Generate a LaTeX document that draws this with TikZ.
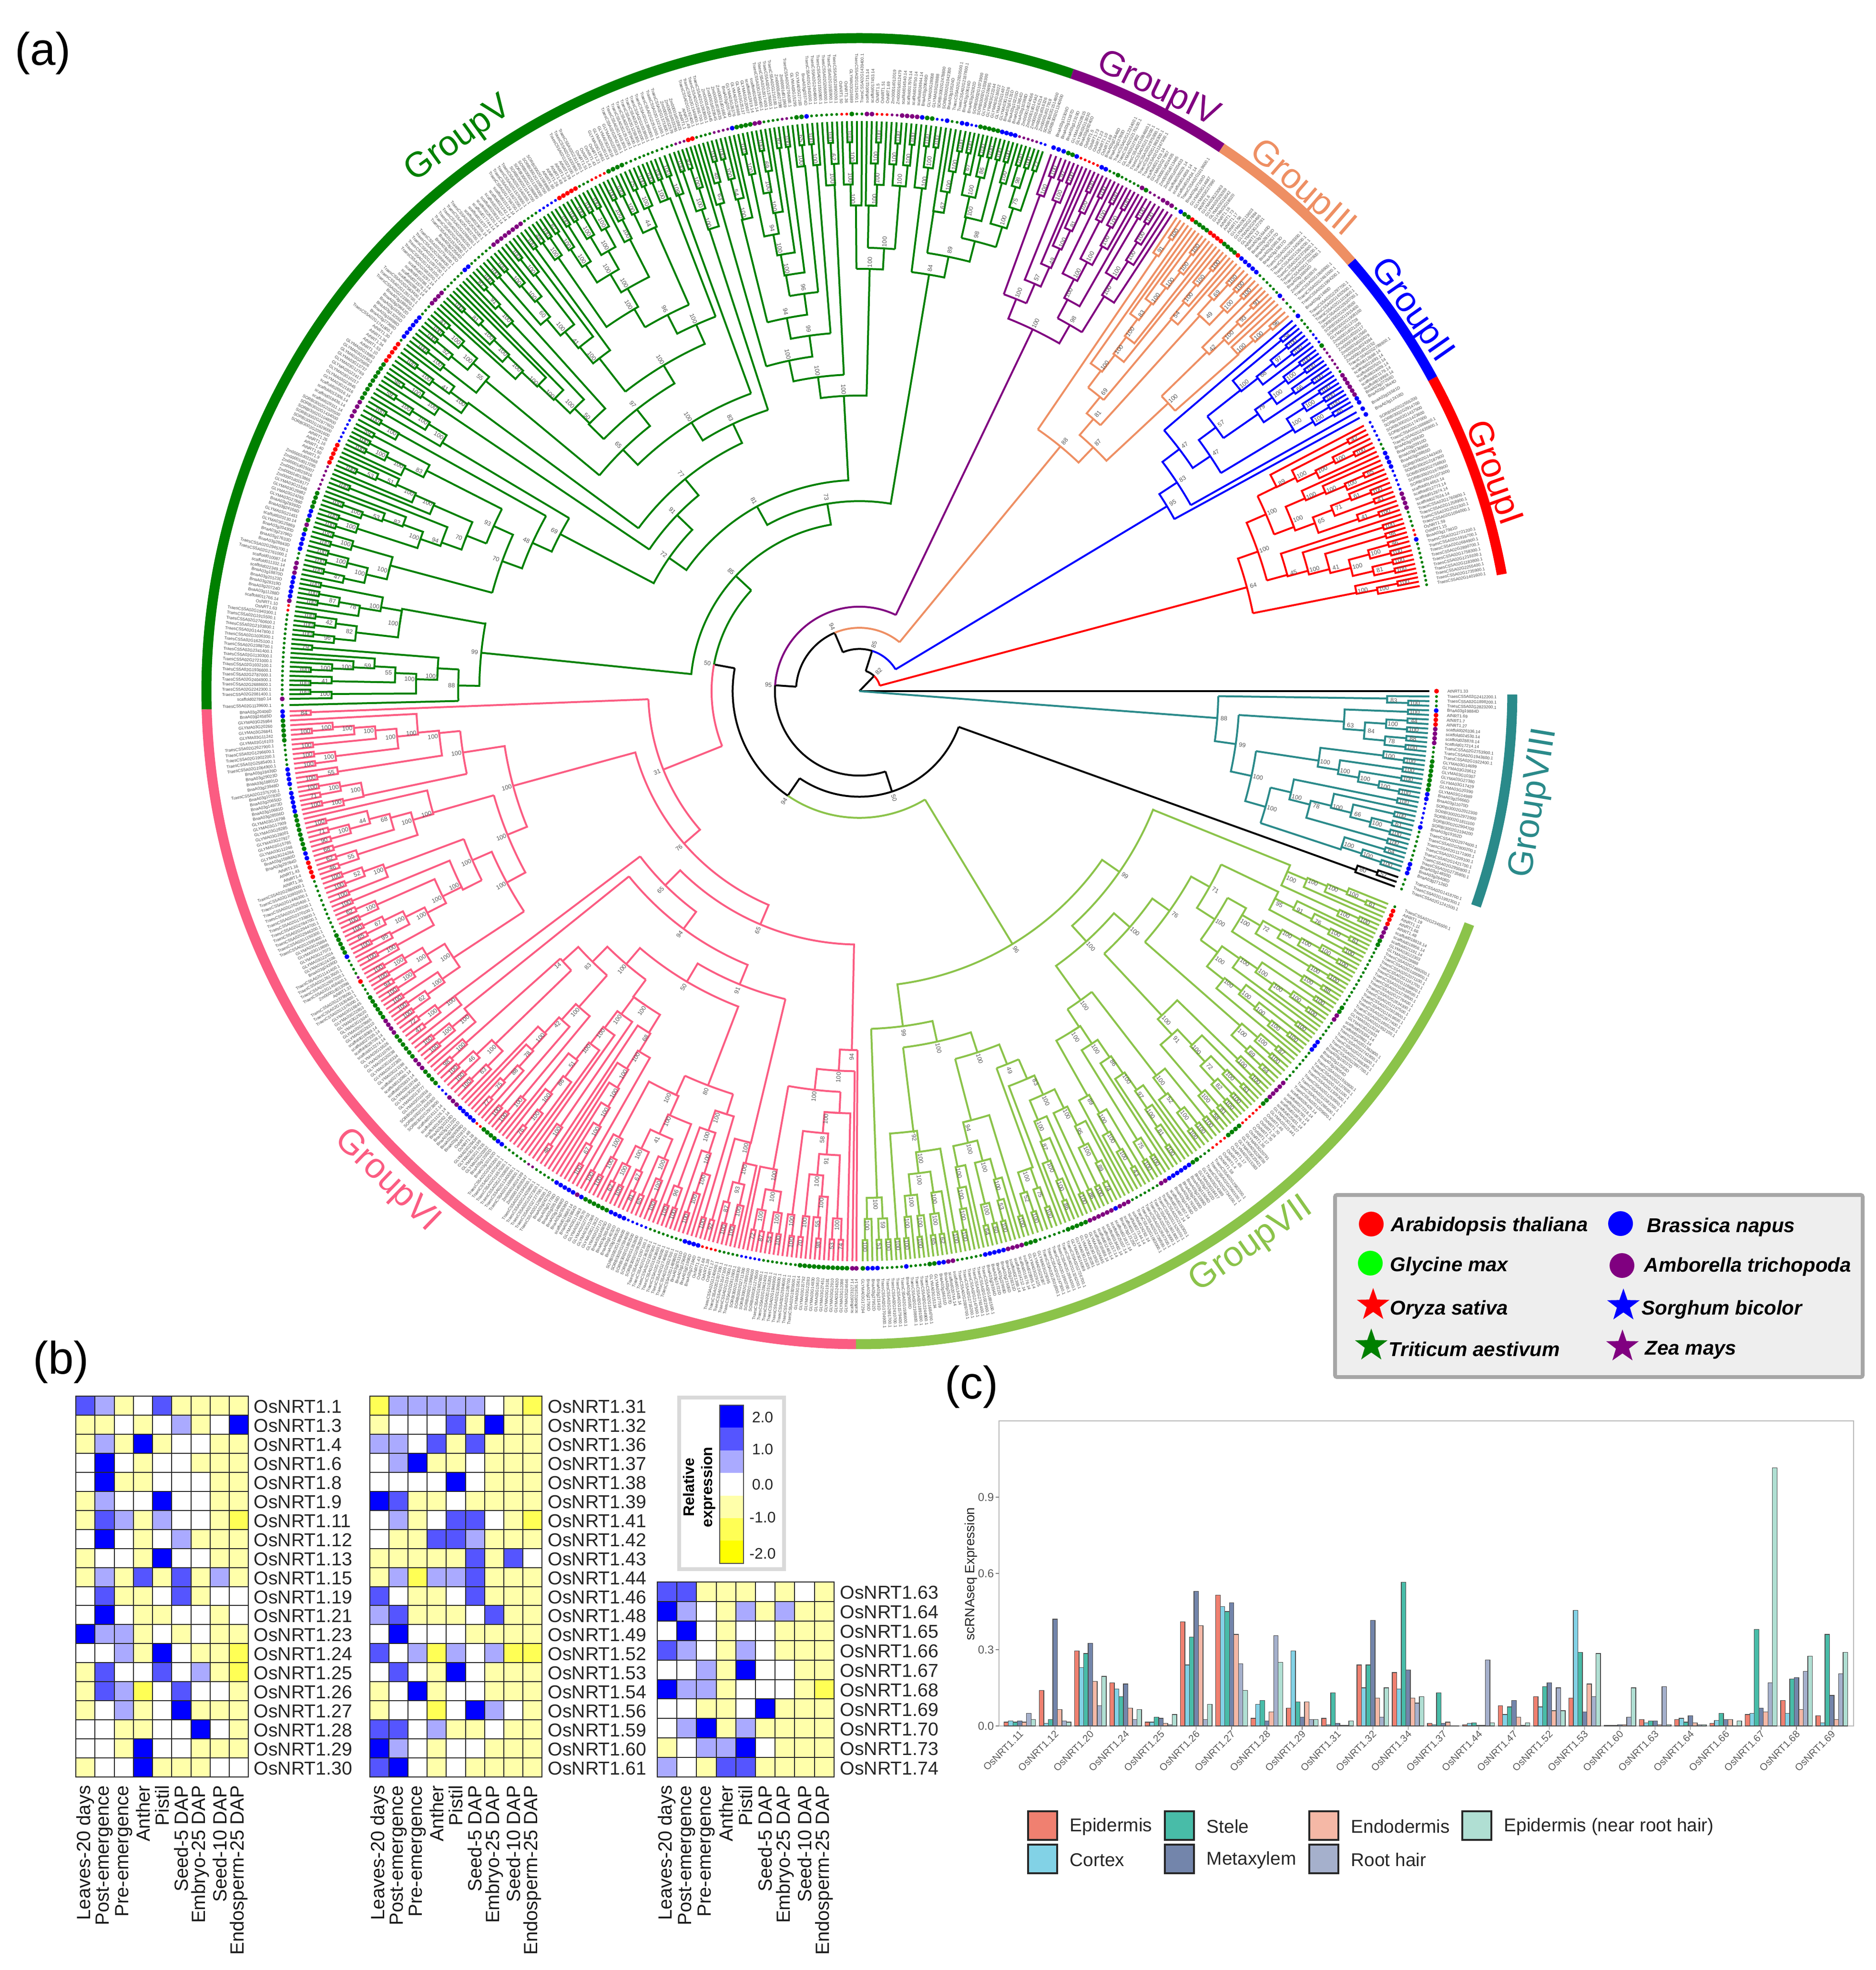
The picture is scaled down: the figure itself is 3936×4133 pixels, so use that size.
\documentclass[tikz,border=0pt]{standalone}
\usepackage{fontspec}
\setmainfont{Liberation Sans}
\usetikzlibrary{shapes.geometric}
\definecolor{cI}{HTML}{FF0000}\definecolor{cII}{HTML}{0000FF}\definecolor{cIII}{HTML}{EE8F63}
\definecolor{cIV}{HTML}{800080}\definecolor{cV}{HTML}{008000}\definecolor{cVI}{HTML}{FB5C82}
\definecolor{cVII}{HTML}{8BC34A}\definecolor{cVIII}{HTML}{2A8A8A}
\definecolor{hmB}{HTML}{0000FF}\definecolor{hmM}{HTML}{5555FF}\definecolor{hmL}{HTML}{AAAAFF}
\definecolor{hmW}{HTML}{FFFFFF}\definecolor{hmY}{HTML}{FFFFAA}\definecolor{hmS}{HTML}{FFFF55}\definecolor{hmZ}{HTML}{FFFF00}
\definecolor{bar0}{HTML}{F08070}\definecolor{bar1}{HTML}{82D2E6}\definecolor{bar2}{HTML}{48BCA8}
\definecolor{bar3}{HTML}{7385AB}\definecolor{bar4}{HTML}{F5B8A6}\definecolor{bar5}{HTML}{A5B0CC}\definecolor{bar6}{HTML}{B0DFD3}
\definecolor{lgfill}{HTML}{EEEEEE}\definecolor{lgline}{HTML}{A6A6A6}
\tikzset{
 treeline/.style={line width=1pt,line join=miter},
 bs/.style={font=\fontsize{3.2}{3.7}\selectfont,text=black!65,inner sep=0pt},
 leaflab/.style={font=\fontsize{2.2}{2.6}\selectfont,text=black!70,inner sep=0pt},
 grouplab/.style={font=\fontsize{18.5}{22}\selectfont,inner sep=0pt},
 panellab/.style={font=\fontsize{24}{28}\selectfont,inner sep=0pt},
 hmlab/.style={font=\fontsize{9.8}{11}\selectfont,anchor=west,inner sep=0pt,text=black!85},
 collab/.style={font=\fontsize{10}{11}\selectfont,rotate=90,anchor=east,inner sep=0pt,text=black!90},
 cell/.style={draw=black!85,line width=.5pt},
 lgtext/.style={font=\fontsize{10.5}{12}\selectfont\bfseries\itshape,anchor=west,inner sep=0pt},
 lgdot/.style={circle,inner sep=0pt,minimum size=13pt},
 lgstar/.style={star,star points=5,star point ratio=2.5,inner sep=0pt,minimum size=18pt},
 barlg/.style={font=\fontsize{9.7}{11}\selectfont,anchor=west,inner sep=0pt,text=black!85},
 swatch/.style={draw=black!85,line width=.8pt},
}
\makeatletter
\newcount\rs \newcount\rt \newcount\rv \global\rs=4711
\newcount\qnS \newcount\qnL \newcount\qhS \newcount\qhL \newcount\qtmp \newcount\qlg \newcount\qfa
\newcount\spRun \newcount\spCur \newcount\topn \newcount\toph
\newdimen\azero \newdimen\adel
\def\rnd#1{\rt=\rs \multiply\rt by 25173 \advance\rt by 13849 \rv=\rt \divide\rv by 65536 \multiply\rv by 65536 \advance\rt by -\rv \global\rs=\rt \rv=\rt \multiply\rv by #1 \divide\rv by 65536 }
\def\clog#1{\qlg=0 \qtmp=1 \loop\ifnum\qtmp<#1 \multiply\qtmp by 2 \advance\qlg by 1 \repeat}
\def\angm#1#2{\edef#1{\strip@pt\dimexpr\azero+\adel*\numexpr#2\relax/2\relax}}
\def\lv#1{\the\dimexpr11.075pt*\numexpr#1\relax\relax}
\def\hr#1{\the\dimexpr11.075pt*\numexpr27-#1\relax\relax}
\def\cc{black}
% bootstrap label: angle, radius dim, text
\def\bslabel#1#2#3{\edef\rotv{#1}\ifdim#1pt>90pt \ifdim#1pt<270pt \edef\rotv{\strip@pt\dimexpr#1pt+180pt\relax}\fi\fi
 \edef\rlab{\the\dimexpr#2+3.5pt\relax}\node[bs,rotate=\rotv] at (#1:\rlab) {#3};}
\def\rndlabel{\rnd{100}\ifnum\rv<68 \def\bstxt{100}\else \rnd{58}\advance\rv by 41 \edef\bstxt{\the\rv}\fi}
% leaf
\def\leafitem#1{\begingroup
 \angm\aL{2*#1+1}%
 \ifnum\spRun<1
  \rnd{16}%
  \ifcase\rv \global\spCur=6 \or\global\spCur=6 \or\global\spCur=6 \or\global\spCur=6 \or\global\spCur=6 \or
   \global\spCur=2 \or\global\spCur=2 \or\global\spCur=2 \or\global\spCur=1 \or\global\spCur=1 \or\global\spCur=1 \or
   \global\spCur=5 \or\global\spCur=0 \or\global\spCur=4 \or\global\spCur=3 \or\global\spCur=7 \fi
  \rnd{6}\global\spRun=\numexpr\rv+1\relax
 \fi
 \global\advance\spRun by -1
 \rnd{20000}\advance\rv by 10000
 \edef\num{\the\rv}%
 \ifcase\spCur
  \def\spc{red}\def\spr{1.25pt}\rnd{74}\advance\rv by 1 \edef\nm{AtNRT1.\the\rv}\or
  \def\spc{blue}\def\spr{1.25pt}\edef\nm{BnaA03g\num D}\or
  \def\spc{cV}\def\spr{1.25pt}\edef\nm{GLYMA03G\num}\or
  \def\spc{cIV}\def\spr{1.25pt}\edef\nm{scaffold0\num.14}\or
  \def\spc{red}\def\spr{.75pt}\rnd{74}\advance\rv by 1 \edef\nm{OsNRT1.\the\rv}\or
  \def\spc{blue}\def\spr{.75pt}\edef\nm{SORBI3002G\num00}\or
  \def\spc{cV}\def\spr{.75pt}\edef\nm{TraesCS5A02G\num00.1}\or
  \def\spc{cIV}\def\spr{.75pt}\edef\nm{Zm00001d0\num}\fi
 \fill[\spc] (\aL:302.75pt) circle[radius=\spr];
 \edef\rotv{\aL}\def\anc{west}%
 \ifdim\aL pt>90pt \ifdim\aL pt<270pt \edef\rotv{\strip@pt\dimexpr\aL pt+180pt\relax}\def\anc{east}\fi\fi
 \node[leaflab,rotate=\rotv,anchor=\anc] at (\aL:308.25pt) {\nm};
 \endgroup}
\def\clade#1#2#3{\ifnum#2=1 \leafitem{#1}\else\cladeX{#1}{#2}{#3}\fi}
\def\cladeX#1#2#3{\begingroup
 \qtmp=#2 \divide\qtmp by 2 \rnd{\qtmp}\qnS=\rv \advance\qnS by 1
 \qtmp=#2 \advance\qtmp by -#3
 \ifnum\qnS>\qtmp \qnS=\qtmp\fi
 \qnL=#2 \advance\qnL by -\qnS
 \ifnum#3<11
  \qtmp=1 \qfa=#3 \advance\qfa by -1
  \loop\ifnum\qfa>0 \multiply\qtmp by 2 \advance\qfa by -1 \repeat
  \ifnum\qnL>\qtmp \qnL=\qtmp \qnS=#2 \advance\qnS by -\qnL \fi
 \fi
 \qhL=#3 \advance\qhL by -1
 \clog{\qnS}%
 \qhS=\qnS \advance\qhS by -1
 \ifnum\qhS>\qhL \qhS=\qhL\fi
 \rnd{3}\advance\qhS by -\rv
 \ifnum\qhS<\qlg \qhS=\qlg\fi
 \rnd{2}%
 \ifnum\rv=0
  \edef\jA{#1}\edef\nA{\the\qnS}\edef\hA{\the\qhS}\edef\jB{\the\numexpr#1+\qnS\relax}\edef\nB{\the\qnL}\edef\hB{\the\qhL}%
 \else
  \edef\jA{#1}\edef\nA{\the\qnL}\edef\hA{\the\qhL}\edef\jB{\the\numexpr#1+\qnL\relax}\edef\nB{\the\qnS}\edef\hB{\the\qhS}%
 \fi
 \angm\aA{2*\jA+\nA}\angm\aB{2*\jB+\nB}\angm\aM{2*#1+#2}%
 \edef\rN{\hr{#3}}\edef\rA{\hr{\hA}}\edef\rB{\hr{\hB}}%
 \draw[treeline,color=\cc] (\aA:\rA) -- (\aA:\rN) arc[start angle=\aA,end angle=\aB,radius=\rN] -- (\aB:\rB);
 \rndlabel \bslabel{\aM}{\rN}{\bstxt}%
 \edef\next{\noexpand\clade{\jA}{\nA}{\hA}\noexpand\clade{\jB}{\nB}{\hB}}\next
 \endgroup}
% top-level clade: stem angle, parent level, a1, a2, level
\def\C#1#2#3#4#5{\begingroup
 \topn=\numexpr\numexpr\dimexpr#4pt-#3pt\relax*100/47\relax/65536\relax
 \ifnum\topn<1 \topn=1 \fi
 \azero=#3pt \adel=\dimexpr(#4pt-#3pt)/\topn\relax
 \toph=\numexpr27-#5\relax
 \qtmp=\topn \advance\qtmp by -1
 \ifnum\toph>\qtmp \toph=\qtmp\fi
 \clog{\topn}\ifnum\toph<\qlg \toph=\qlg\fi
 \edef\rN{\hr{\toph}}\edef\rP{\lv{#2}}\edef\tn{\the\topn}\edef\th{\the\toph}%
 \angm\aM{\tn}%
 \ifnum\topn=1
  \draw[treeline,color=\cc] (\aM:\rP) -- (\aM:\rN);
 \else
  \draw[treeline,color=\cc] (#1:\rP) -- (#1:\rN) arc[start angle=#1,end angle=\aM,radius=\rN];
 \fi
 \clade{0}{\tn}{\th}%
 \endgroup}
\def\Ar#1#2#3#4{\draw[treeline,color=#1] (#3:\lv{#2}) arc[start angle=#3,end angle=#4,radius=\lv{#2}];}
\def\Rd#1#2#3#4{\draw[treeline,color=#1] (#2:\lv{#3}) -- (#2:\lv{#4});}
\def\Lb#1#2#3{\edef\rlb{\lv{#2}}\bslabel{#1}{\rlb}{#3}}
\def\Bn#1#2#3#4#5#6#7{\draw[treeline,color=\cc] (#2:\lv{#3}) -- (#2:\lv{#1}) arc[start angle=#2,end angle=#4,radius=\lv{#1}] -- (#4:\lv{#5});\Lb{#6}{#1}{#7}}
\makeatother
\begin{document}
\begin{tikzpicture}[x=0.25pt,y=-0.25pt]
\useasboundingbox (0,0) rectangle (3936,4133);
\fill[white] (0,0) rectangle (3936,4133);
\node[panellab] (pa) at (90,112) {(a)};
\node[panellab] (pb) at (128,2858) {(b)};
\node[panellab] (pc) at (2038,2910) {(c)};
\begin{scope}[shift={(1803,1450)}]
% outer rings
\foreach \c/\a/\b in {cI/10.3/28.6,cII/28.6/41.1,cIII/41.1/56.3,cIV/56.3/71,cV/71/181.6,cVI/181.6/269.7,cVII/269.7/339.1,cVIII/340.8/359.7}
 \draw[line width=5.25pt,color=\c] (\a:342.5pt) arc[start angle=\a,end angle=\b,radius=342.5pt];
\node[grouplab,text=cI,rotate=-70.5] (gI) at (19:351pt) {GroupI};
\node[grouplab,text=cII,rotate=-55] (gII) at (34.6:351.5pt) {GroupII};
\node[grouplab,text=cIII,rotate=-41] (gIII) at (48.6:351pt) {GroupIII};
\node[grouplab,text=cIV,rotate=-26] (gIV) at (63.6:352pt) {GroupIV};
\node[grouplab,text=cV,rotate=36] (gV) at (126:357.5pt) {GroupV};
\node[grouplab,text=cVI,rotate=-44] (gVI) at (226:357pt) {GroupVI};
\node[grouplab,text=cVII,rotate=35] (gVII) at (-54.7:356pt) {GroupVII};
\node[grouplab,text=cVIII,rotate=80.6] (gVIII) at (-9.4:359pt) {GroupVIII};
% backbone
\Rd{black}{46}{0}{1}
\Ar{cI}{1}{46}{15}\Ar{black}{1}{46}{72.5}\Lb{46}{1}{82}
\Rd{black}{72.5}{1}{2}
\Ar{cII}{2}{72.5}{31}\Ar{black}{2}{72.5}{113}\Lb{72.5}{2}{85}
\Rd{black}{113}{2}{3}
\Ar{cIII}{3}{113}{50.6}\Ar{black}{3}{113}{176}\Lb{113}{3}{94}
\Rd{black}{176}{3}{4}
\Ar{cIV}{4}{176}{64.4}\Ar{black}{4}{176}{288}\Lb{176}{4}{95}
\Rd{black}{288}{4}{5}
\Ar{black}{5}{288}{340.2}\Ar{black}{5}{288}{235.6}\Lb{288}{5}{50}
\Rd{black}{235.6}{5}{6}
\Ar{cVII}{6}{235.6}{301.2}\Ar{black}{6}{235.6}{169.6}\Lb{235.6}{6}{94}
\Rd{black}{169.6}{6}{7}
\Ar{cV}{7}{169.6}{137}\Ar{cVI}{7}{169.6}{201.8}\Lb{169.6}{7}{50}
% black leaves
\C{0}{0}{-0.2}{0.2}{27}
\C{340.2}{5}{339.7}{341.2}{25}
% Group I
\def\cc{cI}
\Rd{cI}{15}{1}{19}
\Bn{19}{19.3}{20}{11.2}{19}{15}{64}\C{11.2}{19}{10.4}{12.2}{22}
\Bn{20}{23.5}{21}{15.2}{20}{19.3}{100}\C{15.2}{20}{12.2}{18.3}{21}
\Bn{21}{26.1}{21}{20.7}{21}{23.5}{100}\C{26.1}{21}{24.6}{28}{22}\C{20.7}{21}{18.3}{24.6}{22}
% Group II
\def\cc{cII}
\Rd{cII}{31}{2}{17}
\Bn{17}{33.3}{18}{28.6}{17}{31}{95}\C{28.6}{17}{28.4}{28.9}{27}
\Bn{18}{37.1}{19}{29.3}{18}{33.3}{83}\C{29.3}{18}{29.0}{29.6}{27}
\Bn{19}{40.6}{19}{33.8}{20}{37.1}{47}\C{40.6}{19}{40.3}{40.8}{27}
\Bn{20}{36.5}{21}{31.1}{20}{33.8}{47}\C{31.1}{20}{29.8}{33.4}{24}
\Bn{21}{38.3}{21}{34.8}{21}{36.5}{57}\C{38.3}{21}{37}{40.2}{23}\C{34.8}{21}{33.4}{37}{23}
% Group III
\def\cc{cIII}
\Rd{cIII}{50.6}{3}{15}
\Bn{15}{55.7}{15}{46.2}{16}{50.6}{88}\C{55.7}{15}{55}{56.4}{26}
\Bn{16}{49.3}{17}{43}{20}{46.2}{87}
\Bn{20}{44.3}{20}{41.6}{20}{43}{100}\C{44.3}{20}{43}{45.3}{21}\C{41.6}{20}{40.9}{43}{23}
\Bn{17}{50.7}{18}{47.8}{17}{49.3}{81}\C{47.8}{17}{45.3}{48.8}{24}
\Bn{18}{53}{18}{50}{18}{50.7}{69}\C{53}{18}{51}{55}{19}\C{50}{18}{48.8}{51}{23}
% Group IV
\def\cc{cIV}
\Rd{cIV}{64.4}{4}{19}
\Bn{19}{68.2}{20}{60.1}{20}{64.4}{100}
\Bn{20}{70}{20}{66.7}{20}{68.2}{100}\C{70}{20}{69}{70.6}{23}\C{66.7}{20}{64.5}{69}{21}
\Bn{20}{62}{20}{58.2}{20}{60.1}{98}\C{62}{20}{60}{64.5}{21}\C{58.2}{20}{56.5}{60}{22}
% Group V
\def\cc{cV}
\Rd{cV}{137}{7}{8}
\Bn{8}{99.7}{9}{174.2}{18}{137}{85}
\Bn{18}{169.6}{18}{179.2}{19}{174.2}{99}\C{169.8}{18}{168.4}{175}{22}
\Bn{19}{176.9}{19}{181.4}{19}{179.2}{88}\C{181.4}{19}{181.2}{181.6}{27}\C{176.9}{19}{175}{181}{20}
\Bn{9}{80.5}{20}{119}{10}{99.7}{73}
\Bn{10}{93}{14}{145}{11}{119}{81}
\Bn{14}{97.5}{15}{88.6}{20}{93}{100}
\Bn{15}{102}{16}{92.8}{15}{97.5}{100}\C{92.8}{15}{92}{94}{24}
\Bn{16}{106}{16}{98}{17}{102}{100}\C{106}{16}{104.8}{106.6}{24}
\Bn{17}{101}{18}{94.6}{17}{98}{99}\C{94.6}{17}{94}{95.5}{24}
\Bn{18}{104}{18}{97.9}{19}{101}{94}\C{104}{18}{102.5}{104.8}{23}
\Bn{19}{100}{19}{95.9}{19}{97.9}{96}\C{100}{19}{97}{102.5}{20}\C{95.9}{19}{95.5}{97}{24}
\Bn{20}{90.4}{20}{86.8}{21}{88.6}{100}\C{90.4}{20}{89.5}{92}{23}
\Bn{21}{88.9}{21}{85.4}{21}{86.8}{100}\C{88.9}{21}{87}{89.5}{22}\C{85.4}{21}{84}{87}{24}
\Bn{20}{82.9}{20}{78.4}{21}{80.5}{84}\C{82.9}{20}{81.5}{84}{24}
\Bn{21}{81.2}{21}{75.6}{22}{78.4}{89}\C{81.2}{21}{79}{81.5}{23}
\Bn{22}{77.3}{22}{72.9}{22}{75.6}{98}\C{77.3}{22}{75}{79}{23}\C{72.9}{22}{71}{75}{23}
\Bn{11}{136}{12}{152.3}{16}{145}{72}
\Bn{16}{149.2}{16}{155.6}{17}{152.3}{69}\C{149.2}{16}{147.2}{150.2}{23}
\Bn{17}{150.8}{17}{160}{18}{155.6}{48}\C{150.8}{17}{150.2}{151.8}{23}
\Bn{18}{155.7}{19}{165}{18}{160}{70}\C{165}{18}{163}{168.4}{23}
\Bn{19}{153}{19}{158.4}{19}{155.7}{93}\C{153}{19}{151.8}{155}{23}\C{158.4}{19}{155}{163}{20}
\Bn{12}{146}{12}{129.4}{13}{136}{91}\C{146}{12}{145.3}{147.2}{22}
\Bn{13}{143.6}{13}{115.3}{14}{129.4}{77}\C{143.6}{13}{142.8}{145.3}{23}
\Bn{14}{122}{15}{108}{14}{115.3}{83}\C{108}{14}{106.6}{109.2}{23}
\Bn{15}{134.4}{16}{110}{15}{122}{100}\C{110}{15}{109.2}{110.8}{24}
\Bn{16}{140.3}{16}{128.3}{17}{134.4}{65}\C{140.3}{16}{138}{142.8}{23}
\Bn{17}{135.4}{17}{121}{18}{128.3}{97}\C{135.4}{17}{131.5}{138}{18}
\Bn{18}{128}{18}{114}{19}{121}{100}\C{128}{18}{125.7}{131.5}{20}
\Bn{19}{117}{20}{111}{19}{114}{100}\C{111}{19}{110.8}{112.6}{25}
\Bn{20}{120.5}{20}{113.8}{20}{117}{96}\C{120.5}{20}{116}{125.7}{21}\C{113.8}{20}{112.6}{116}{24}
% Group VI
\def\cc{cVI}
\Rd{cVI}{201.8}{7}{10}
\Bn{10}{182.2}{10}{221}{11}{201.8}{31}\C{182.2}{10}{181.8}{182.7}{26}
\Bn{11}{195.3}{17}{247}{12}{221}{76}
\Bn{17}{188.8}{19}{202.2}{18}{195.3}{100}
\Bn{19}{185.7}{19}{191.9}{19}{188.8}{100}\C{185.7}{19}{182.7}{189.5}{20}\C{191.9}{19}{189.5}{192.7}{25}
\Bn{18}{195.9}{18}{208.5}{19}{202.2}{100}\C{195.9}{18}{192.7}{199}{21}
\Bn{19}{203.6}{20}{213.3}{19}{208.5}{100}\C{213.3}{19}{209.5}{216}{23}
\Bn{20}{200.5}{20}{206.6}{20}{203.6}{100}\C{200.5}{20}{199}{202}{24}\C{206.6}{20}{202}{209.5}{21}
\Bn{12}{225}{13}{268.8}{17}{247}{65}
\Bn{13}{217}{13}{233.5}{14}{225}{65}\C{217}{13}{216}{218.5}{25}
\Bn{14}{218.8}{14}{247.8}{15}{233.5}{94}\C{218.8}{14}{218.5}{221}{24}
\Bn{15}{239.3}{16}{256.5}{15}{247.8}{91}\C{256.5}{15}{254}{258}{22}
\Bn{16}{229.5}{17}{249}{20}{239.3}{50}
\Bn{20}{245.6}{20}{252.6}{20}{249}{80}\C{245.6}{20}{240.5}{249}{21}\C{252.6}{20}{249}{254}{21}
\Bn{17}{225.4}{18}{233.5}{17}{229.5}{100}\C{233.5}{17}{231}{240.5}{18}
\Bn{18}{222.3}{19}{228.4}{18}{225.4}{83}\C{228.4}{18}{226}{231}{20}
\Bn{19}{221.8}{19}{224.1}{19}{222.3}{14}\C{221.8}{19}{221}{222.5}{25}\C{224.1}{19}{222.5}{226}{24}
\Bn{17}{266.9}{18}{269.7}{17}{268.8}{94}\C{269.7}{17}{269.5}{269.9}{27}
\Bn{18}{263.6}{19}{269.3}{18}{266.9}{100}\C{269.3}{18}{269.1}{269.5}{27}
\Bn{19}{259.8}{19}{267.3}{19}{263.6}{100}\C{259.8}{19}{258}{262}{23}\C{267.3}{19}{262}{269}{20}
% Group VII
\def\cc{cVII}
\Rd{cVII}{301.2}{6}{14}
\Bn{14}{277.4}{16}{325.2}{15}{301.2}{96}
\Bn{16}{272}{16}{282.5}{17}{277.4}{99}\C{272}{16}{270.1}{273.5}{24}
\Bn{17}{277}{17}{288.1}{18}{282.5}{100}\C{277}{17}{273.5}{280.5}{21}
\Bn{18}{284.6}{18}{291.6}{19}{288.1}{100}\C{284.6}{18}{280.5}{287.5}{21}
\Bn{19}{290}{19}{293.4}{19}{291.6}{49}\C{290}{19}{287.5}{290.5}{24}\C{293.4}{19}{290.5}{298}{20}
\Bn{15}{338.2}{15}{312.2}{16}{325.2}{99}\C{338}{15}{334.6}{338.3}{22}
\Bn{16}{318.9}{17}{305.6}{18}{312.2}{100}
\Bn{18}{307.7}{18}{303.2}{18}{305.6}{100}\C{307.7}{18}{306}{309.5}{23}\C{303.2}{18}{298}{306}{19}
\Bn{17}{324.7}{18}{313}{17}{318.9}{100}\C{313}{17}{309.5}{316.5}{21}
\Bn{18}{330.8}{19}{318.7}{18}{324.7}{76}\C{318.7}{18}{316.5}{320}{24}
\Bn{19}{334.4}{19}{327.3}{20}{330.8}{71}\C{334.4}{19}{331.5}{334.6}{22}
\Bn{20}{330.7}{20}{323.9}{20}{327.3}{100}\C{330.7}{20}{326.5}{331.5}{21}\C{323.9}{20}{320}{326.5}{21}
% Group VIII
\def\cc{cVIII}
\Rd{cVIII}{-4.3}{0}{17}
\Bn{17}{-0.8}{17}{-8}{18}{-4.3}{88}\C{-0.8}{17}{-1.7}{-0.3}{26}
\Bn{18}{-3.6}{18}{-12.2}{19}{-8}{99}\C{-3.6}{18}{-6.3}{-1.7}{23}
\Bn{19}{-8.6}{19}{-15.9}{20}{-12.2}{100}\C{-8.6}{19}{-11}{-6.3}{22}
\Bn{20}{-13.2}{20}{-18.2}{20}{-15.9}{100}\C{-13.2}{20}{-16.3}{-11}{21}\C{-18.2}{20}{-18.6}{-16.3}{24}
\end{scope}
% species legend
\draw[fill=lgfill,draw=lgline,line width=2pt,rounded corners=1pt] (2801,2507) rectangle (3908,2889);
\node[lgdot,fill=red] (s1) at (2877,2568) {};
\node[lgtext] (t1) at (2918,2573) {Arabidopsis thaliana};
\node[lgdot,fill=blue] (s2) at (3400,2567) {};
\node[lgtext] (t2) at (3455,2575) {Brassica napus};
\node[lgdot,fill=green] (s3) at (2875,2650) {};
\node[lgtext] (t3) at (2916,2657) {Glycine max};
\node[lgdot,fill=cIV] (s4) at (3403,2655) {};
\node[lgtext] (t4) at (3449,2658) {Amborella trichopoda};
\node[lgstar,fill=red] (s5) at (2881,2738) {};
\node[lgtext] (t5) at (2916,2748) {Oryza sativa};
\node[lgstar,fill=blue] (s6) at (3406,2739) {};
\node[lgtext] (t6) at (3444,2748) {Sorghum bicolor};
\node[lgstar,fill=cV] (s7) at (2877,2823) {};
\node[lgtext] (t7) at (2913,2830) {Triticum aestivum};
\node[lgstar,fill=cIV] (s8) at (3404,2825) {};
\node[lgtext] (t8) at (3451,2832) {Zea mays};
% heat maps
\newcommand{\heat}[5]{% x0,y0,cw,ch,labx ; rows in \hmrows
 \foreach \lab/\row [count=\r from 0] in \hmrows {
  \foreach \c [count=\i from 0] in \row
   \draw[cell,fill=hm\c] ({#1+\i*#3},{#2+\r*#4}) rectangle ({#1+(\i+1)*#3},{#2+(\r+1)*#4});
  \node[hmlab] at (#5,{#2+(\r+.5)*#4+2}) {OsNRT\lab};
 }
 \foreach \t [count=\i from 0] in {Leaves-20 days,Post-emergence,Pre-emergence,Anther,Pistil,Seed-5 DAP,Embryo-25 DAP,Seed-10 DAP,Endosperm-25 DAP}
  \node[collab] at ({#1+(\i+.5)*#3},3745) {\t};
}
\def\hmrows{1.1/{M,L,Y,W,M,Y,Y,Y,Y},1.3/{Y,Y,W,Y,W,L,Y,W,B},1.4/{Y,L,Y,B,Y,W,W,Y,Y},1.6/{W,B,W,Y,W,W,Y,Y,Y},1.8/{W,B,Y,Y,W,W,W,Y,Y},1.9/{Y,L,W,W,B,W,W,Y,Y},1.11/{Y,M,L,Y,L,W,W,Y,S},1.12/{W,B,W,Y,W,L,Y,Y,Y},1.13/{Y,W,W,Y,B,W,W,Y,Y},1.15/{Y,L,Y,M,Y,M,Y,L,Y},1.19/{W,M,Y,Y,W,M,Y,W,W},1.21/{W,B,W,Y,Y,W,W,Y,W},1.23/{B,L,L,Y,W,Y,W,Y,Y},1.24/{W,W,L,Y,B,W,Y,Y,S},1.25/{Y,M,W,W,M,W,L,Y,S},1.26/{Y,M,L,S,W,M,W,W,Y},1.27/{Y,W,L,Y,W,B,Y,Y,Y},1.28/{W,W,Y,Y,W,W,B,W,Y},1.29/{W,W,Y,B,W,W,Y,Y,Y},1.30/{Y,W,W,B,Y,Y,Y,W,W}}
\heat{159}{2929}{40.25}{39.95}{532}
\def\hmrows{1.31/{S,L,L,L,L,L,W,Y,S},1.32/{Y,W,W,W,M,Y,B,Y,Y},1.36/{L,L,W,M,Y,M,Y,Y,Y},1.37/{W,L,B,Y,Y,W,Y,Y,Y},1.38/{W,W,W,W,B,W,Y,Y,Y},1.39/{B,M,Y,Y,W,Y,Y,Y,Y},1.41/{W,L,Y,W,M,M,W,Y,S},1.42/{W,Y,Y,M,M,L,Y,Y,Y},1.43/{Y,Y,Y,Y,Y,M,Y,M,W},1.44/{Y,L,S,L,L,M,Y,Y,Y},1.46/{M,W,Y,Y,W,M,Y,Y,Y},1.48/{L,M,Y,Y,Y,W,M,Y,Y},1.49/{W,B,W,W,W,Y,Y,Y,Y},1.52/{M,W,L,S,L,W,L,S,S},1.53/{W,M,W,Y,B,W,Y,Y,Y},1.54/{Y,W,B,Y,W,W,Y,Y,Y},1.56/{Y,W,W,S,W,B,L,W,Y},1.59/{M,M,W,L,Y,Y,W,Y,Y},1.60/{B,L,W,Y,W,W,Y,Y,Y},1.61/{M,B,W,Y,W,Y,Y,Y,Y}}
\heat{776}{2929}{40.1}{39.95}{1149}
\def\hmrows{1.63/{M,M,Y,Y,Y,W,Y,W,Y},1.64/{B,L,W,Y,L,Y,L,Y,Y},1.65/{W,B,W,Y,W,W,Y,Y,Y},1.66/{M,L,W,Y,L,W,Y,Y,Y},1.67/{W,W,L,Y,B,W,W,Y,Y},1.68/{B,L,L,Y,W,W,W,Y,S},1.69/{W,W,Y,Y,W,B,Y,Y,Y},1.70/{W,L,B,Y,L,Y,Y,Y,Y},1.73/{Y,W,L,L,B,W,Y,Y,Y},1.74/{L,W,Y,M,M,Y,Y,Y,Y}}
\heat{1379}{3319}{41.2}{40.9}{1762}
% colour key
\draw[draw=black!15,line width=2pt] (1425,2932) rectangle (1645,3292);
\foreach \c [count=\i from 0] in {B,M,L,W,Y,S,Z}
 \fill[hm\c] (1510,{2948+\i*47.4}) rectangle (1560,{2948+(\i+1)*47.4});
\draw[draw=black!70,line width=.4pt] (1510,2948) rectangle (1560,3280);
\foreach \t/\y in {2.0/2973,1.0/3040,0.0/3114,-1.0/3183,-2.0/3259}
 \node[font=\fontsize{8}{9}\selectfont,text=black!85,inner sep=0pt] at (1600,\y) {\t};
\node[font=\fontsize{8}{9.6}\selectfont\bfseries,rotate=90,align=center,inner sep=0pt] (keyt) at (1467,3120) {Relative\\expression};
% bar chart
\draw[draw=black!28,line width=.7pt] (2096,2981) rectangle (3889,3621);
\foreach \n/\v [count=\g from 0] in {
 1.11/{.015,.02,.015,.02,.015,.05,.025},1.12/{.14,.01,.025,.42,.065,.02,.015},1.20/{.295,.23,.285,.325,.175,.08,.195},
 1.24/{.17,.145,.115,.165,.07,.025,.065},1.25/{.015,.015,.035,.03,.01,.005,.045},1.26/{.41,.24,.35,.53,.395,.025,.085},
 1.27/{.515,.47,.45,.485,.36,.245,.14},1.28/{.03,.085,.10,.02,.055,.355,.25},1.29/{.07,.295,.095,.035,.095,.025,.025},
 1.31/{.03,.005,.13,.01,.003,.003,.02},1.32/{.24,.15,.24,.415,.11,.035,.15},1.34/{.21,.145,.565,.22,.11,.09,.115},
 1.37/{.01,.005,.13,.01,.015,0,0},1.44/{.005,.01,.012,.003,.003,.26,.012},1.47/{.08,.045,.075,.10,.035,.003,.012},
 1.52/{.115,.075,.155,.17,.06,.15,.06},1.53/{.11,.455,.29,.055,.165,.115,.285},1.60/{.002,.002,.002,.005,.005,.035,.15},
 1.63/{.025,.012,.02,.02,.005,.155,.005},1.64/{.025,.03,.015,.04,.012,.005,.005},1.66/{.01,.022,.05,.025,.025,0,.02},
 1.67/{.045,.05,.38,.07,.055,.17,1.015},1.68/{.10,.05,.185,.19,.065,.215,.275},1.69/{.04,.012,.36,.12,.025,.205,.29}} {
 \pgfmathsetmacro\gx{2139.5+74.07*\g}
 \foreach \h [count=\i from 0] in \v {
  \pgfmathsetmacro\bx{\gx+(\i-3.5)*9.5}
  \pgfmathsetmacro\by{3621-\h*533.3}
  \filldraw[fill=bar\i,draw=black!70,line width=.35pt] (\bx,3621) rectangle ({\bx+9.5},\by);
 }
 \draw[black!50,line width=.3pt] (\gx,3621) -- (\gx,3629);
 \node[font=\fontsize{5.2}{6}\selectfont,text=black!65,rotate=45,anchor=east,inner sep=0pt] at ({\gx+4},3634) {OsNRT\n};
}
\foreach \t/\y in {0.0/3621,0.3/3461,0.6/3301,0.9/3141} {
 \draw[black!50,line width=.3pt] (2089,\y) -- (2096,\y);
 \node[font=\fontsize{6}{7}\selectfont,text=black!65,anchor=east,inner sep=0pt] at (2086,\y) {\t};
}
\node[font=\fontsize{7}{8}\selectfont,text=black!85,rotate=90,inner sep=0pt] (ytitle) at (2037,3302) {scRNAseq Expression};
\foreach \x/\y/\i/\t in {2157/3800/0/Epidermis,2157/3870/1/Cortex,2444/3800/2/Stele,2444/3870/3/Metaxylem,2747/3800/4/Endodermis,2747/3870/5/Root hair,3068/3800/6/Epidermis (near root hair)} {
 \draw[swatch,fill=bar\i] (\x,\y) rectangle ({\x+61},{\y+60});
 \node[barlg] at ({\x+87},{\y+32}) {\t};
}
\end{tikzpicture}
\end{document}
